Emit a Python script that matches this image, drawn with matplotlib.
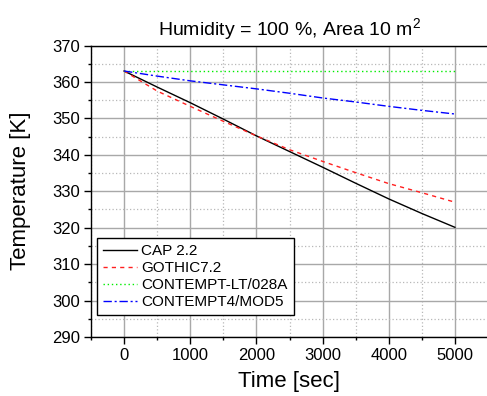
import numpy as np
import matplotlib
matplotlib.use('Agg')
import matplotlib.pyplot as plt
from matplotlib.ticker import MultipleLocator

plt.rcParams['font.family'] = ['Liberation Sans', 'DejaVu Sans']
plt.rcParams['mathtext.fontset'] = 'custom'
plt.rcParams['mathtext.rm'] = 'Liberation Sans'

# time axis (sec)
time = [0, 500, 1000, 1500, 2000, 2500, 3000, 3500, 4000, 4500, 5000]
# temperatures [K]
cap22 = [363.0, 358.6, 354.3, 349.8, 345.2, 340.9, 336.6, 332.2, 327.9, 323.9, 320.1]
gothic = [363.0, 357.5, 353.3, 349.2, 345.2, 341.4, 338.2, 335.1, 332.1, 329.6, 327.0]
contempt_lt = [363.0, 363.0, 363.0, 363.0, 363.0, 363.0, 363.0, 363.0, 363.0, 363.0, 363.0]
contempt4 = [363.0, 361.6, 360.3, 359.2, 358.1, 356.9, 355.6, 354.5, 353.3, 352.2, 351.2]

labels = ['CAP 2.2', 'GOTHIC7.2', 'CONTEMPT-LT/028A', 'CONTEMPT4/MOD5']

fig = plt.figure(figsize=(4.87, 3.96), dpi=100)
# right edge of the axes runs just past the picture edge
ax = fig.add_axes([91/487, 59/396, 397/487, 291.5/396])

ax.plot(time, cap22, color='black', lw=1.0, ls='-', label=labels[0])
ax.plot(time, gothic, color='#ff2020', lw=1.0, ls=(0, (3, 3)), label=labels[1])
ax.plot(time, contempt_lt, color='#00ee00', lw=1.0, ls=(0, (1, 2)), label=labels[2])
ax.plot(time, contempt4, color='#0000ff', lw=1.0, ls=(0, (6, 2, 1.5, 2)), label=labels[3])

ax.set_xlim(-500, 5500)
ax.set_ylim(290, 370)
ax.xaxis.set_major_locator(MultipleLocator(1000))
ax.xaxis.set_minor_locator(MultipleLocator(500))
ax.yaxis.set_major_locator(MultipleLocator(10))
ax.yaxis.set_minor_locator(MultipleLocator(5))

ax.grid(which='major', color='#a8a8a8', lw=1.0, ls='-')
ax.grid(which='minor', color='#b8b8b8', lw=0.9, ls=(0, (1, 1.8)))
ax.set_axisbelow(True)

ax.tick_params(which='major', direction='out', length=5, width=1, labelsize=12, pad=3)
ax.tick_params(which='minor', direction='out', length=2.5, width=1)
for s in ax.spines.values():
    s.set_linewidth(1.0)
    s.set_color('black')

ax.set_title('Humidity = 100 %, Area 10 m$^2$', fontsize=14, pad=7)
ax.set_xlabel('Time [sec]', fontsize=16, labelpad=6)
ax.set_ylabel('Temperature [K]', fontsize=16, labelpad=15)

leg = ax.legend(loc='lower left', bbox_to_anchor=(0.015, 0.075), borderaxespad=0,
                fontsize=11, frameon=True, fancybox=False, framealpha=1,
                edgecolor='black', handlelength=2.2, handletextpad=0.3,
                labelspacing=0.2, borderpad=0.4)
leg.get_frame().set_linewidth(1.0)

fig.savefig('out.png', dpi=100)
